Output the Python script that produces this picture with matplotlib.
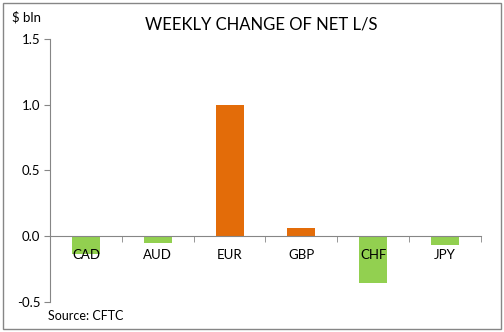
import matplotlib.pyplot as plt
from matplotlib.patches import Rectangle

currencies = ["CAD", "AUD", "EUR", "GBP", "CHF", "JPY"]
changes = [-0.14, -0.05, 1.0, 0.06, -0.36, -0.07]
y_ticks = [-0.5, 0.0, 0.5, 1.0, 1.5]

POS = "#E36C09"
NEG = "#92D050"
GRID = "#868686"

plt.rcParams['font.family'] = ['Lato', 'DejaVu Sans']

fig = plt.figure(figsize=(5.04, 3.32), dpi=100)
ax = fig.add_axes([50 / 504, 1 - 301.7 / 332, 431 / 504, (301.7 - 39) / 332])

x = list(range(len(currencies)))
colors = [POS if v >= 0 else NEG for v in changes]
ax.bar(x, changes, width=0.39, color=colors, zorder=1)

ax.set_xlim(-0.5, len(currencies) - 0.5)
ax.set_ylim(-0.5, 1.5)
ax.set_yticks(y_ticks)
ax.set_yticklabels([f"{v:.1f}" for v in y_ticks], fontsize=9.5)

for s in ["top", "right"]:
    ax.spines[s].set_visible(False)
ax.spines["left"].set_color(GRID)
ax.spines["bottom"].set_color(GRID)
ax.spines["bottom"].set_position(("data", 0))
ax.tick_params(axis="y", length=4, color=GRID, pad=3)

ax.set_xticks(x)
ax.set_xticklabels(currencies, fontsize=9.5)
ax.tick_params(axis="x", which="major", length=0, pad=9)
ax.set_xticks([i - 0.5 for i in range(len(currencies) + 1)], minor=True)
ax.tick_params(axis="x", which="minor", length=4, color=GRID)

fig.text(261 / 504, 1 - 25 / 332, "WEEKLY CHANGE OF NET L/S", ha="center", va="center", fontsize=12)
fig.text(12 / 504, 1 - 17 / 332, "$ bln", ha="left", va="center", fontsize=9.5)
fig.text(48 / 504, 1 - 316 / 332, "Source: CFTC", ha="left", va="center", fontsize=9)

fig.patches.append(Rectangle((3 / 504, 3 / 332), 498 / 504, 326 / 332, transform=fig.transFigure,
                             fill=False, edgecolor=GRID, linewidth=1))

fig.savefig("out.png", dpi=100)
